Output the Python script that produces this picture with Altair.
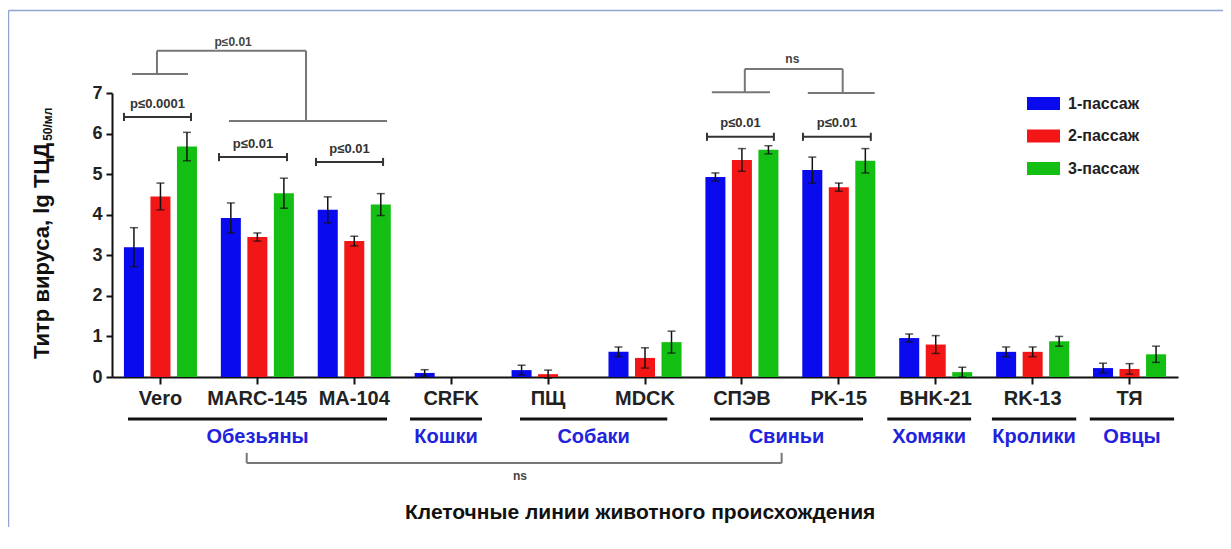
import altair as alt
import pandas as pd

# ---------------- data ----------------
cell_lines = ["Vero", "MARC-145", "MA-104", "CRFK", "ПЩ", "MDCK", "СПЭВ", "PK-15", "BHK-21", "RK-13", "ТЯ"]
passages = ["1-пассаж", "2-пассаж", "3-пассаж"]
titer_p1 = [3.20, 3.92, 4.12, 0.10, 0.17, 0.62, 4.93, 5.10, 0.96, 0.62, 0.22]
titer_p2 = [4.45, 3.45, 3.35, 0.00, 0.07, 0.47, 5.35, 4.68, 0.80, 0.62, 0.20]
titer_p3 = [5.68, 4.53, 4.25, 0.00, 0.00, 0.86, 5.60, 5.33, 0.12, 0.88, 0.56]
err_p1 = [0.48, 0.37, 0.32, 0.08, 0.12, 0.12, 0.10, 0.32, 0.10, 0.12, 0.12]
err_p2 = [0.33, 0.10, 0.12, 0.00, 0.10, 0.25, 0.28, 0.10, 0.22, 0.12, 0.13]
err_p3 = [0.35, 0.37, 0.27, 0.00, 0.00, 0.27, 0.10, 0.30, 0.12, 0.12, 0.20]
colors = ["#0a0aee", "#f31616", "#14bf14"]

# animal groups (extent in category units along the x axis)
groups = ["Обезьяны", "Кошки", "Собаки", "Свиньи", "Хомяки", "Кролики", "Овцы"]
group_start = [0.165, 3.075, 4.21, 6.17, 8.00, 9.08, 10.09]
group_end = [2.838, 3.818, 5.73, 7.75, 8.865, 9.95, 10.96]

# significance brackets (category units / titre units)
sig_labels = ["p≤0.0001", "p≤0.01", "p≤0.01", "p≤0.01", "p≤0.01"]
sig_x1 = [0.124, 1.104, 2.105, 6.14, 7.13]
sig_x2 = [0.815, 1.806, 2.797, 6.83, 7.83]
sig_y = [6.41, 5.42, 5.30, 5.92, 5.92]

# compound brackets: segments (x1, y1, x2, y2)
seg_x1 = [0.206, 0.464, 0.464, 2.002, 1.207, 6.19, 6.53, 6.53, 7.54, 7.18, 1.39, 1.39, 6.91]
seg_y1 = [7.47, 7.47, 8.04, 8.04, 6.31, 7.02, 7.02, 7.59, 7.59, 7.00, -1.87, -2.12, -2.12]
seg_x2 = [0.784, 0.464, 2.002, 2.002, 2.838, 6.79, 6.53, 7.54, 7.54, 7.87, 1.39, 6.91, 6.91]
seg_y2 = [7.47, 8.04, 8.04, 6.31, 6.31, 7.02, 7.59, 7.59, 7.00, 7.00, -2.12, -2.12, -1.87]
top_labels = ["p≤0.01", "ns", "ns"]
top_x = [1.25, 7.02, 4.21]
top_y = [8.26, 7.84, -2.44]

# ---------------- tables ----------------
rows = []
for vals, errs, p in zip([titer_p1, titer_p2, titer_p3], [err_p1, err_p2, err_p3], passages):
    for c, v, e in zip(cell_lines, vals, errs):
        rows.append({"line": c, "passage": p, "titer": v, "lo": v - e, "hi": v + e, "err": e})
df = pd.DataFrame(rows)
df_err = df[df["err"] > 0]

FONT = "Liberation Sans"
xband = alt.X("line:N", sort=cell_lines, scale=alt.Scale(paddingInner=0, paddingOuter=0),
              axis=alt.Axis(title=None, labelFontSize=20, labelFontWeight="bold", labelColor="#222222",
                            labelFont=FONT, labelAngle=0, tickSize=7, tickWidth=2, tickColor="#111111",
                            domainColor="#111111", domainWidth=2, labelPadding=4, grid=False))
xoff = alt.XOffset("passage:N", sort=passages, scale=alt.Scale(paddingInner=0.245, paddingOuter=0.45))
yscale = alt.Scale(domain=[0, 7], nice=False)

bars = alt.Chart(df).mark_bar().encode(
    x=xband,
    xOffset=xoff,
    y=alt.Y("titer:Q", scale=yscale,
            axis=alt.Axis(title=None, values=list(range(8)), labelFontSize=18, labelFontWeight="bold",
                          labelColor="#222222", labelFont=FONT, tickSize=6, tickWidth=2, tickColor="#111111",
                          domainColor="#111111", domainWidth=2, labelPadding=4, grid=False)),
    color=alt.Color("passage:N", sort=passages, scale=alt.Scale(domain=passages, range=colors),
                    legend=alt.Legend(orient="none", legendX=915, legendY=-6, title=None,
                                      symbolType="M-1,-0.4H1V0.4H-1Z", symbolSize=1089,
                                      symbolStrokeWidth=0, labelFontSize=16, labelFontWeight="bold",
                                      labelFont=FONT, labelColor="#222222", labelOffset=8, rowPadding=7.5)),
)

xb2 = alt.X("line:N", sort=cell_lines)
err_rule = alt.Chart(df_err).mark_rule(color="#111111", strokeWidth=1.5).encode(
    x=xb2, xOffset=xoff, y=alt.Y("lo:Q", scale=yscale), y2="hi:Q")
cap_hi = alt.Chart(df_err).mark_tick(color="#111111", thickness=1.5, size=8, orient="horizontal").encode(
    x=xb2, xOffset=xoff, y=alt.Y("hi:Q", scale=yscale))
cap_lo = alt.Chart(df_err).mark_tick(color="#111111", thickness=1.5, size=8, orient="horizontal").encode(
    x=xb2, xOffset=xoff, y=alt.Y("lo:Q", scale=yscale))

main = alt.layer(bars, err_rule, cap_hi, cap_lo)

# ---------------- annotation overlay ----------------
qx = alt.Scale(domain=[0, 11], nice=False, zero=False)
qy = alt.Scale(domain=[0, 7], nice=False, zero=False)


def X(f):
    return alt.X(f, type="quantitative", scale=qx, axis=None)


def Y(f):
    return alt.Y(f, type="quantitative", scale=qy, axis=None)


gdf = pd.DataFrame({"g": groups, "s": group_start, "e": group_end})
gdf["m"] = (gdf["s"] + gdf["e"]) / 2
gdf["yl"] = -1.035
gdf["yt"] = -1.48
group_lines = alt.Chart(gdf).mark_rule(color="#111111", strokeWidth=3).encode(
    x=X("s"), x2="e", y=Y("yl"))
group_text = alt.Chart(gdf).mark_text(font=FONT, fontSize=20, fontWeight="bold", color="#2222dd",
                                      baseline="middle").encode(x=X("m"), y=Y("yt"), text="g")

sdf = pd.DataFrame({"t": sig_labels, "a": sig_x1, "b": sig_x2, "y": sig_y})
sdf["m"] = (sdf["a"] + sdf["b"]) / 2
sdf["ty"] = sdf["y"] + 0.33
sdf["c1"] = sdf["y"] - 0.1
sdf["c2"] = sdf["y"] + 0.1
sig_line = alt.Chart(sdf).mark_rule(color="#333333", strokeWidth=2).encode(x=X("a"), x2="b", y=Y("y"))
sig_cap_a = alt.Chart(sdf).mark_rule(color="#333333", strokeWidth=2).encode(x=X("a"), y=Y("c1"), y2="c2")
sig_cap_b = alt.Chart(sdf).mark_rule(color="#333333", strokeWidth=2).encode(x=X("b"), y=Y("c1"), y2="c2")
sig_text = alt.Chart(sdf).mark_text(font=FONT, fontSize=13, fontWeight="bold", color="#333333",
                                    baseline="middle").encode(x=X("m"), y=Y("ty"), text="t")

segdf = pd.DataFrame({"x1": seg_x1, "y1": seg_y1, "x2": seg_x2, "y2": seg_y2})
segs = alt.Chart(segdf).mark_rule(color="#777777", strokeWidth=2).encode(
    x=X("x1"), y=Y("y1"), x2="x2", y2="y2")
tdf = pd.DataFrame({"t": top_labels, "x": top_x, "y": top_y})
top_text = alt.Chart(tdf).mark_text(font=FONT, fontSize=12, fontWeight="bold", color="#444444",
                                    baseline="middle").encode(x=X("x"), y=Y("y"), text="t")

ttl = pd.DataFrame({"t": ["Титр вируса, lg ТЦД"], "x": [-0.722], "y": [5.77]})
ytitle = alt.Chart(ttl).mark_text(font=FONT, fontSize=22, fontWeight="bold", color="#111111", angle=270,
                                  align="right", baseline="middle").encode(x=X("x"), y=Y("y"), text="t")
sub = pd.DataFrame({"t": ["50/мл"], "x": [-0.662], "y": [5.82]})
ysub = alt.Chart(sub).mark_text(font=FONT, fontSize=12, fontWeight="bold", color="#111111", angle=270,
                                align="left", baseline="middle").encode(x=X("x"), y=Y("y"), text="t")
xt = pd.DataFrame({"t": ["Клеточные линии животного происхождения"], "x": [5.45], "y": [-3.35]})
xtitle = alt.Chart(xt).mark_text(font=FONT, fontSize=21, fontWeight="bold", color="#111111",
                                 baseline="middle").encode(x=X("x"), y=Y("y"), text="t")

frame_l = alt.Chart(gdf.head(1)).mark_rule(color="#8ea6cf", strokeWidth=1.5).encode(
    x=alt.value(-103.5), y=alt.value(-82.5), y2=alt.value(600))
frame_t = alt.Chart(gdf.head(1)).mark_rule(color="#8ea6cf", strokeWidth=1.5).encode(
    x=alt.value(-103.5), x2=alt.value(1200), y=alt.value(-82.5))

overlay = alt.layer(group_lines, group_text, sig_line, sig_cap_a, sig_cap_b, sig_text, segs, top_text,
                    ytitle, ysub, xtitle, frame_l, frame_t)

chart = alt.layer(main, overlay).resolve_scale(x="independent", y="independent").properties(
    width=1066, height=284,
    autosize=alt.AutoSizeParams(type="none"),
    padding={"left": 104, "top": 85, "right": 45, "bottom": 150},
    background="white",
).configure_view(stroke=None)

chart.save("out.html", embed_options={"renderer": "svg", "actions": False})
